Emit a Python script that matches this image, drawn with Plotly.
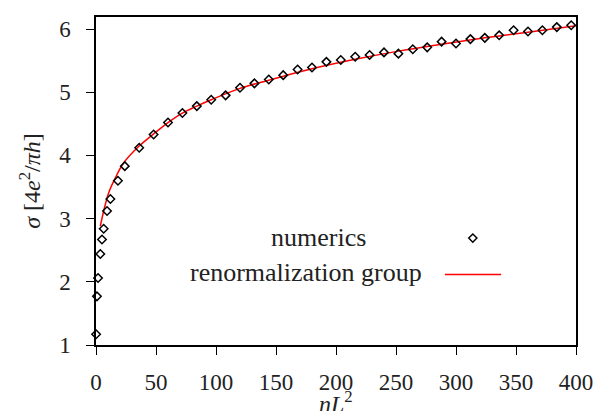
import plotly.graph_objects as go

# numerics (nL^2, sigma)
num_x = [0.1, 0.8, 1.7, 3.6, 5.0, 6.4, 9.2, 12, 18.3, 24, 36, 48, 60, 72, 84, 96, 108, 120,
         132, 144, 156, 168, 180, 192, 204, 216, 228, 240, 252, 264, 276, 288, 300, 312,
         324, 336, 348, 360, 372, 384, 396]
num_y = [1.17, 1.77, 2.06, 2.44, 2.67, 2.84, 3.12, 3.31, 3.60, 3.83, 4.12, 4.33, 4.52, 4.67,
         4.78, 4.88, 4.95, 5.07, 5.14, 5.20, 5.27, 5.36, 5.39, 5.48, 5.51, 5.56, 5.59, 5.63,
         5.61, 5.68, 5.71, 5.80, 5.77, 5.84, 5.86, 5.90, 5.98, 5.96, 5.98, 6.03, 6.06]

# renormalization group curve
rg_x = [3.6, 6.4, 10.6, 16, 23, 35.5, 48, 60, 72, 84, 96, 120, 144, 180, 216, 252, 288,
        324, 360, 400]
rg_y = [2.88, 3.12, 3.41, 3.64, 3.88, 4.14, 4.34, 4.52, 4.67, 4.78, 4.88, 5.06, 5.19, 5.37,
        5.52, 5.65, 5.76, 5.86, 5.95, 6.05]

x_ticks = [0, 50, 100, 150, 200, 250, 300, 350, 400]
y_ticks = [1, 2, 3, 4, 5, 6]

FONT = "Liberation Serif"
TICK_FS = 23
TITLE_FS = 24
LEG_FS = 26
TXT = "#222222"

fig = go.Figure()
fig.add_trace(go.Scatter(x=rg_x, y=rg_y, mode="lines", line=dict(color="#ff0000", width=1.5),
                         line_shape="spline", name="renormalization group"))
fig.add_trace(go.Scatter(x=num_x, y=num_y, mode="markers",
                         marker=dict(symbol="diamond-open", size=6.5, color="black",
                                     line=dict(width=1.5, color="black")),
                         name="numerics", cliponaxis=False))

axis_common = dict(showgrid=False, zeroline=False, showline=True, linecolor="black",
                   linewidth=1.5, mirror=True, ticks="outside", ticklen=8, tickwidth=1.2,
                   tickcolor="black", tickfont=dict(family=FONT, size=TICK_FS, color=TXT),
                   automargin=False)

fig.update_xaxes(range=[0, 400], tickvals=x_ticks, ticklabelstandoff=8, **axis_common)
fig.update_yaxes(range=[1, 6.19], tickvals=y_ticks, ticklabelstandoff=11, **axis_common,
                 title=dict(text="<i>σ</i> [4<i>e</i><sup>2</sup>/<i>πh</i>]",
                            font=dict(family=FONT, size=TITLE_FS, color=TXT), standoff=12))

# x-axis title
fig.add_annotation(x=0.5, y=-0.175, xref="paper", yref="paper",
                   text="<i>nL</i><sup>2</sup>", showarrow=False,
                   xanchor="center", yanchor="middle",
                   font=dict(family=FONT, size=TITLE_FS, color=TXT))

# legend drawn manually (keys on the right of the text)
fig.add_annotation(x=0.4625, y=0.329, xref="paper", yref="paper", text="numerics",
                   showarrow=False, xanchor="center", yanchor="middle",
                   font=dict(family=FONT, size=LEG_FS, color=TXT))
fig.add_annotation(x=0.4375, y=0.221, xref="paper", yref="paper", text="renormalization group",
                   showarrow=False, xanchor="center", yanchor="middle",
                   font=dict(family=FONT, size=LEG_FS, color=TXT))
cx, cy, hx, hy = 0.785, 0.326, 0.0085, 0.0125
fig.add_shape(type="path", xref="paper", yref="paper",
              path=f"M {cx-hx} {cy} L {cx} {cy+hy} L {cx+hx} {cy} L {cx} {cy-hy} Z",
              line=dict(color="black", width=1.5))
fig.add_shape(type="line", xref="paper", yref="paper", x0=0.727, x1=0.844, y0=0.215, y1=0.215,
              line=dict(color="#ff0000", width=1.5))

fig.update_layout(width=601, height=411, margin=dict(l=88, r=33, t=9, b=74),
                  plot_bgcolor="white", paper_bgcolor="white", showlegend=False)

fig.write_html("out.html")
